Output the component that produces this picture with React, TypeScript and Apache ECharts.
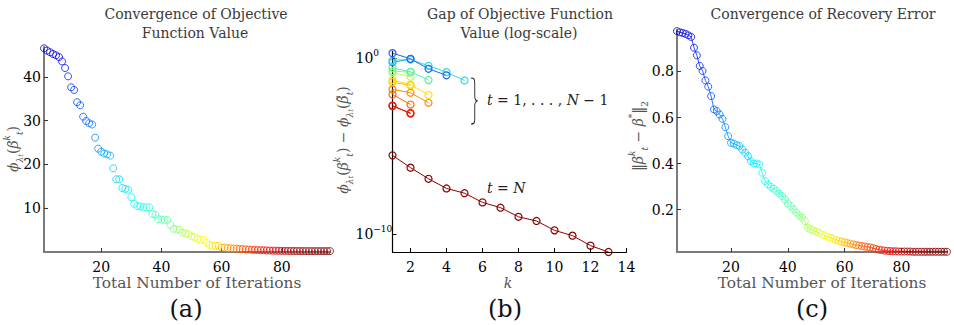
import React, { useEffect, useRef } from 'react';
import * as echarts from 'echarts';

const SERIF = 'DejaVu Serif';

// ---------- data ----------
const iterationTicks = [20, 40, 60, 80];
const kTicks = [2, 4, 6, 8, 10, 12, 14];
const errorTicks = [0.2, 0.4, 0.6, 0.8];
const objectiveTicks = [10, 20, 30, 40];
const gapTickExponents = [-10, 0];

// (a) objective value per iteration (iteration = index + 1)
const objectiveValues = [
  46.5, 46.0, 45.6, 45.2, 44.9, 44.5, 43.5, 42.0, 40.1, 37.6,
  37.0, 34.2, 33.5, 30.9, 29.9, 29.4, 29.1, 26.1, 23.6, 22.9,
  22.5, 22.3, 22.0, 19.1, 16.6, 16.6, 14.6, 14.4, 14.2, 12.5,
  11.0, 10.5, 10.4, 10.2, 10.2, 10.2, 8.7, 8.5, 7.5, 7.4,
  7.4, 7.3, 6.2, 5.3, 5.1, 5.1, 4.4, 4.2, 4.1, 3.6,
  3.4, 3.0, 2.8, 2.8, 2.2, 1.6, 1.4, 1.4, 1.4, 1.0,
  1.0, 0.9, 0.85, 0.8, 0.75, 0.7, 0.65, 0.6, 0.55, 0.5,
  0.47, 0.44, 0.41, 0.38, 0.35, 0.33, 0.31, 0.29, 0.27, 0.26,
  0.25, 0.24, 0.23, 0.22, 0.22, 0.21, 0.21, 0.2, 0.2, 0.2,
  0.2, 0.2, 0.2, 0.2, 0.2, 0.2,
];

// (c) recovery error per iteration
const recoveryErrors = [
  0.975, 0.970, 0.967, 0.963, 0.957, 0.950, 0.903, 0.870, 0.824, 0.802,
  0.761, 0.734, 0.693, 0.635, 0.628, 0.613, 0.594, 0.558, 0.519, 0.490,
  0.487, 0.480, 0.476, 0.461, 0.447, 0.432, 0.410, 0.400, 0.400, 0.396,
  0.360, 0.324, 0.309, 0.299, 0.291, 0.281, 0.270, 0.259, 0.244, 0.227,
  0.215, 0.201, 0.187, 0.175, 0.165, 0.150, 0.121, 0.114, 0.110, 0.104,
  0.100, 0.092, 0.088, 0.082, 0.078, 0.074, 0.068, 0.064, 0.061, 0.058,
  0.055, 0.052, 0.049, 0.046, 0.044, 0.042, 0.040, 0.038, 0.036, 0.033,
  0.029, 0.026, 0.024, 0.022, 0.021, 0.020, 0.019, 0.019, 0.018, 0.018,
  0.018, 0.018, 0.018, 0.017, 0.017, 0.017, 0.017, 0.017, 0.017, 0.017,
  0.017, 0.017, 0.017, 0.017, 0.017, 0.017,
];

// (b) gap of objective value, final stage t = N, k = 1..13
const gapFinal = [
  3.1e-6, 6.2e-7, 1.45e-7, 4.1e-8, 2.2e-8, 6.6e-9, 3.3e-9, 1.0e-9,
  5.8e-10, 1.7e-10, 8.5e-11, 2.3e-11, 1.0e-11,
];

// (b) earlier stages t = 1..N-1 (k = 1, 2, ...)
const gapStage1 = [2.0, 0.955, 0.257, 0.110];
const gapStage2 = [0.794, 0.871, 0.380, 0.166, 0.0562];
const gapStage3 = [0.603, 0.912];
const gapStage4 = [0.295, 0.174, 0.0589];
const gapStage5 = [0.191, 0.166];
const gapStage6 = [0.155, 0.0912];
const gapStage7 = [0.0589, 0.0331, 0.00832];
const gapStage8 = [0.0447, 0.0295];
const gapStage9 = [0.0174, 0.0112, 0.00302];
const gapStage10 = [0.00891, 0.0024];
const gapStage11 = [0.00195, 0.000794];
const gapStage12 = [0.00209, 0.000741];

const gapStages = [
  gapStage12, gapStage11, gapStage10, gapStage9, gapStage8, gapStage7,
  gapStage6, gapStage5, gapStage4, gapStage3, gapStage2, gapStage1,
];
const gapStageColors = [
  '#e00000', '#ff1a00', '#ff6a00', '#ff8c00', '#ffc000', '#ffe000',
  '#b8ff48', '#80ff80', '#50f0a8', '#10a8ff', '#30dcdc', '#2060ff',
];

// ---------- styles ----------
const colorAnchors: [number, number][] = [
  [1, 0.06], [10, 0.17], [22, 0.3], [30, 0.37], [42, 0.47], [50, 0.58],
  [58, 0.66], [66, 0.78], [76, 0.88], [84, 0.96], [96, 1.0],
];

function jet(t: number): string {
  const c = (x: number) => Math.max(0, Math.min(1, x));
  const r = c(1.5 - Math.abs(4 * t - 3));
  const g = c(1.5 - Math.abs(4 * t - 2));
  const b = c(1.5 - Math.abs(4 * t - 1));
  return `rgb(${Math.round(r * 255)},${Math.round(g * 255)},${Math.round(b * 255)})`;
}

function iterColor(i: number): string {
  for (let s = 0; s < colorAnchors.length - 1; s++) {
    const [i0, t0] = colorAnchors[s];
    const [i1, t1] = colorAnchors[s + 1];
    if (i <= i1) {
      const f = (i - i0) / (i1 - i0);
      return jet(t0 + (t1 - t0) * Math.max(0, f));
    }
  }
  return jet(1);
}

const BRACE_D = 'M0,0 C4,0 5,1 5,5 L5,18 C5,21 6,23 9,23 C6,23 5,25 5,28 L5,41 C5,45 4,46 0,46';
echarts.graphic.registerShape('brace', echarts.graphic.extendPath(BRACE_D, {}) as any);

const NAME_COLOR = '#555';
const TITLE_COLOR = '#3a3a3a';

const mathRich = (color: string) => ({
  m: { fontFamily: SERIF, fontStyle: 'italic', fontSize: 14, lineHeight: 22, verticalAlign: 'middle', fill: color },
  p: { fontFamily: SERIF, fontSize: 14, lineHeight: 22, verticalAlign: 'middle', fill: color },
  sp: { fontFamily: SERIF, fontStyle: 'italic', fontSize: 9, lineHeight: 9, verticalAlign: 'top', fill: color },
  sb: { fontFamily: SERIF, fontStyle: 'italic', fontSize: 9, lineHeight: 9, verticalAlign: 'bottom', fill: color },
  sbu: { fontFamily: SERIF, fontSize: 9, lineHeight: 9, verticalAlign: 'bottom', fill: color },
  ssb: { fontFamily: SERIF, fontStyle: 'italic', fontSize: 7, lineHeight: 6, verticalAlign: 'bottom', fill: color },
});

function plainText(text: string, x: number, y: number, size: number, color: string, scaleX = 1, italic = false) {
  return {
    type: 'text',
    x,
    y,
    scaleX,
    silent: true,
    style: {
      text,
      fontFamily: SERIF,
      fontSize: size,
      fontStyle: italic ? 'italic' : 'normal',
      fill: color,
      align: 'center',
      verticalAlign: 'middle',
    },
  };
}

function richText(text: string, x: number, y: number, color: string, rotation = 0, align = 'center') {
  return {
    type: 'text',
    x,
    y,
    rotation,
    silent: true,
    style: {
      text,
      rich: mathRich(color),
      fontFamily: SERIF,
      fontSize: 14,
      fill: color,
      align,
      verticalAlign: 'middle',
    },
  };
}

const tickLabel = { fontFamily: SERIF, fontSize: 14, color: '#000' };

function greyAxis(extra: any) {
  return {
    type: 'value',
    axisLine: { show: true, onZero: false, lineStyle: { color: '#7a7a7a', width: 2 } },
    axisTick: { show: true, inside: true, length: 4, lineStyle: { color: '#333', width: 1 } },
    splitLine: { show: false },
    ...extra,
  };
}

function App() {
  const ref = useRef<HTMLDivElement>(null);

  useEffect(() => {
    if (!ref.current) return;
    const chart = echarts.init(ref.current, null, { renderer: 'svg' });

    const objData = objectiveValues.map((v, i) => ({
      value: [i + 1, v],
      itemStyle: { color: 'rgba(0,0,0,0)', borderColor: iterColor(i + 1), borderWidth: 1 },
    }));
    const errData = recoveryErrors.map((v, i) => ({
      value: [i + 1, v],
      itemStyle: { color: 'rgba(0,0,0,0)', borderColor: iterColor(i + 1), borderWidth: 1 },
    }));
    const gradStops = [0, 0.1, 0.2, 0.3, 0.4, 0.5, 0.6, 0.7, 0.8, 0.9, 1].map((o) => ({
      offset: o,
      color: iterColor(1 + o * 95),
    }));

    const stageSeries = gapStages.map((vals, s) => ({
      type: 'line',
      xAxisIndex: 1,
      yAxisIndex: 1,
      data: vals.map((v, k) => [k + 1, Math.log10(v)]),
      symbol: 'circle',
      symbolSize: 7,
      itemStyle: { color: 'rgba(0,0,0,0)', borderColor: gapStageColors[s], borderWidth: 1.2 },
      lineStyle: { color: gapStageColors[s], width: 1 },
      z: 3,
    }));

    const option: any = {
      animation: false,
      backgroundColor: '#fff',
      grid: [
        { left: 44, top: 47, width: 286, height: 205 },
        { left: 392.5, top: 51.4, width: 234, height: 200.6 },
        { left: 677, top: 30, width: 270, height: 222 },
      ],
      xAxis: [
        greyAxis({
          gridIndex: 0, min: 1, max: 96,
          axisTick: { show: true, inside: true, length: 4, customValues: iterationTicks, lineStyle: { color: '#333' } },
          axisLabel: { ...tickLabel, margin: 8, customValues: iterationTicks },
        }),
        {
          type: 'value', gridIndex: 1, min: 1, max: 14,
          axisLine: { show: true, onZero: false, lineStyle: { color: '#000', width: 1.2 } },
          axisTick: { show: true, inside: true, length: 4, customValues: kTicks, lineStyle: { color: '#000' } },
          axisLabel: { ...tickLabel, margin: 8, customValues: kTicks },
          splitLine: { show: false },
        },
        greyAxis({
          gridIndex: 2, min: 1, max: 96,
          axisTick: { show: true, inside: true, length: 4, customValues: iterationTicks, lineStyle: { color: '#333' } },
          axisLabel: { ...tickLabel, margin: 8, customValues: iterationTicks },
        }),
      ],
      yAxis: [
        greyAxis({
          gridIndex: 0, min: 0, max: 46.8,
          axisTick: { show: true, inside: true, length: 4, customValues: objectiveTicks, lineStyle: { color: '#333' } },
          axisLabel: { ...tickLabel, margin: 3, customValues: objectiveTicks },
        }),
        {
          type: 'value', gridIndex: 1, min: -11, max: 0.4,
          axisLine: { show: true, onZero: false, lineStyle: { color: '#000', width: 1.2 } },
          axisTick: { show: true, inside: true, length: 4, customValues: gapTickExponents, lineStyle: { color: '#000' } },
          axisLabel: {
            customValues: gapTickExponents,
            align: 'left',
            margin: 37,
            formatter: (v: number) => `{b|10}{e|${v < 0 ? '\u2212' + Math.abs(v) : v}}`,
            rich: {
              b: { fontFamily: SERIF, fontSize: 14, color: '#000', lineHeight: 20, verticalAlign: 'middle' },
              e: { fontFamily: SERIF, fontSize: 9, color: '#000', lineHeight: 9, verticalAlign: 'top' },
            },
          },
          splitLine: { show: false },
        },
        greyAxis({
          gridIndex: 2, min: 0.016, max: 0.98,
          axisTick: { show: true, inside: true, length: 4, customValues: errorTicks, lineStyle: { color: '#333' } },
          axisLabel: { ...tickLabel, margin: 3, customValues: errorTicks, formatter: (v: number) => v.toFixed(1) },
        }),
      ],
      series: [
        {
          type: 'scatter', xAxisIndex: 0, yAxisIndex: 0,
          symbol: 'circle', symbolSize: 7, data: objData,
        },
        {
          type: 'line', xAxisIndex: 2, yAxisIndex: 2,
          data: recoveryErrors.map((v, i) => [i + 1, v]),
          symbol: 'none',
          lineStyle: { width: 0.8, color: new echarts.graphic.LinearGradient(0, 0, 1, 0, gradStops) },
        },
        {
          type: 'scatter', xAxisIndex: 2, yAxisIndex: 2,
          symbol: 'circle', symbolSize: 7, data: errData,
        },
        ...stageSeries,
        {
          type: 'line', xAxisIndex: 1, yAxisIndex: 1,
          data: gapFinal.map((v, k) => [k + 1, Math.log10(v)]),
          symbol: 'circle', symbolSize: 7,
          itemStyle: { color: 'rgba(0,0,0,0)', borderColor: '#8b0000', borderWidth: 1.2 },
          lineStyle: { color: '#8b0000', width: 1 },
          z: 3,
        },
      ],
      graphic: [
        plainText('Convergence of Objective', 196, 14, 14, TITLE_COLOR),
        plainText('Function Value', 195, 33, 14, TITLE_COLOR),
        plainText('Gap of Objective Function', 520, 14, 14, TITLE_COLOR),
        plainText('Value (log-scale)', 519, 33, 14, TITLE_COLOR),
        plainText('Convergence of Recovery Error', 823, 14, 14, TITLE_COLOR),
        plainText('Total Number of Iterations', 197, 283, 14, NAME_COLOR, 1.1),
        plainText('k', 508, 283, 14, NAME_COLOR, 1, true),
        plainText('Total Number of Iterations', 822, 283, 14, NAME_COLOR, 1.1),
        plainText('(a)', 186, 309, 24, '#111'),
        plainText('(b)', 505, 309, 24, '#111'),
        plainText('(c)', 812, 309, 24, '#111'),
        richText('{m|\u03d5}{sb|\u03bb}{ssb|t}{p|(}{m|\u03b2}{sp|k}{sb|t}{p|)}', 13, 149, NAME_COLOR, Math.PI / 2),
        richText(
          '{m|\u03d5}{sb|\u03bb}{ssb|t}{p|(}{m|\u03b2}{sp|k}{sb|t}{p|) \u2212 }{m|\u03d5}{sb|\u03bb}{ssb|t}{p|(}{m|\u03b2\u0303}{sb|t}{p|)}',
          343, 140, NAME_COLOR, Math.PI / 2,
        ),
        richText('{p|\u2016}{m|\u03b2}{sp|k}{sb|t}{p| \u2212 }{m|\u03b2}{sp|*}{p|\u2016}{sbu|2}', 638, 136, NAME_COLOR, Math.PI / 2),
        richText('{m|t}{p| = 1, . . . , }{m|N}{p| \u2212 1}', 487, 100, '#222', 0, 'left'),
        richText('{m|t}{p| = }{m|N}', 487, 188, '#222', 0, 'left'),
        {
          type: 'brace',
          x: 471,
          y: 78,
          scaleX: 0.75,
          scaleY: 1,
          silent: true,
          style: { stroke: '#222', fill: null, lineWidth: 1.2 },
        },
      ],
    };

    chart.setOption(option);
    return () => chart.dispose();
  }, []);

  return (
    <div
      ref={ref}
      style={{ position: 'fixed', left: 0, top: 0, width: 954, height: 325, background: '#fff' }}
    />
  );
}

export default App;
